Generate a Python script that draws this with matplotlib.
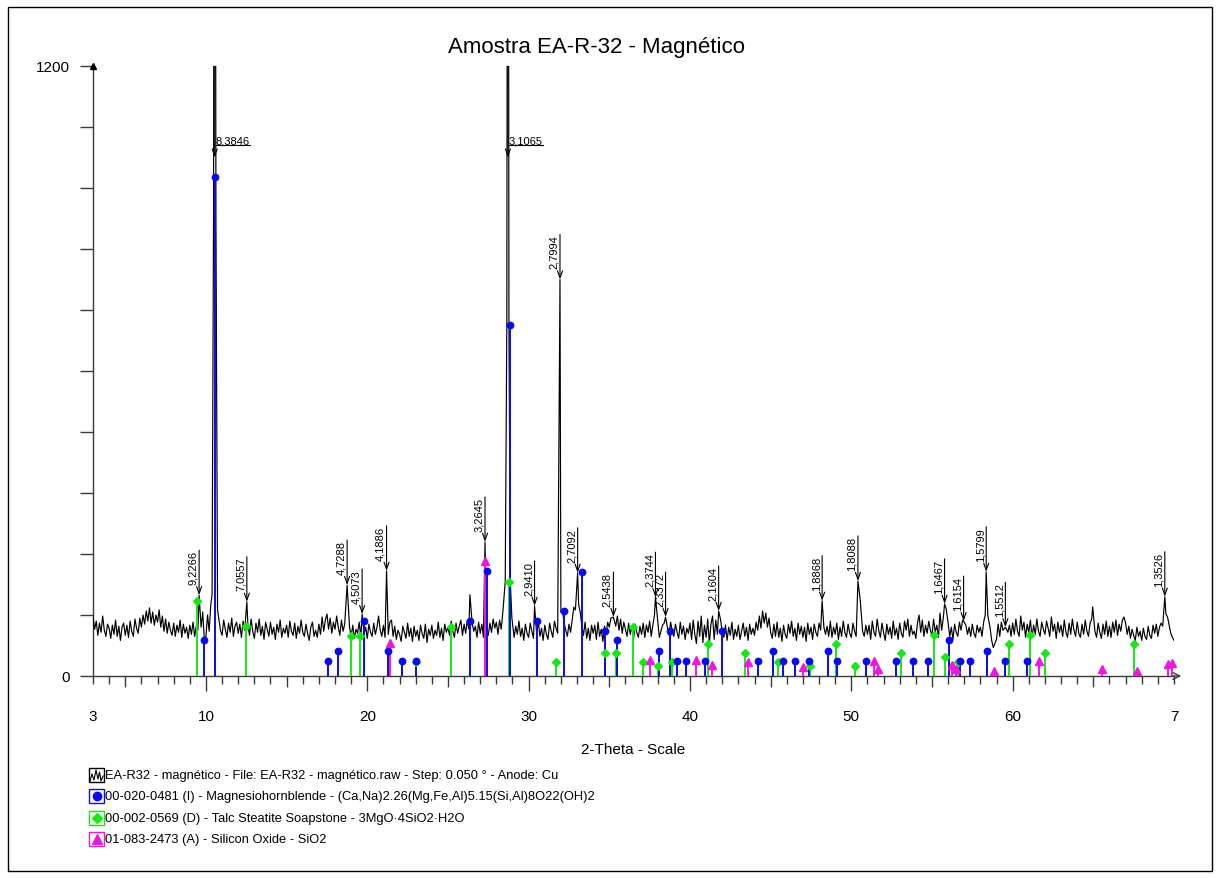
import numpy as np
import matplotlib
matplotlib.use("Agg")
import matplotlib.pyplot as plt
import matplotlib.transforms as mtransforms
from matplotlib.patches import Rectangle
from matplotlib.lines import Line2D

plt.rcParams['font.family'] = ['Liberation Sans', 'DejaVu Sans']

# ---------------------------------------------------------------- data
TITLE = "Amostra EA-R-32 - Magnético"
X_LABEL = "2-Theta - Scale"
WAVELENGTH = 1.5406          # Cu K-alpha1 (Å)
Y_MAX = 1200

# measured scan (counts), 3.0 .. 70.0 deg 2-theta
scan_start = 3.0
scan_step = 0.1
background_counts = [
    116, 92, 108, 80, 104, 86, 118, 90, 78, 102,     # 3
    94, 74, 100, 82, 110, 78, 98, 70, 96, 104,       # 4
    80, 100, 76, 108, 88, 78, 112, 94, 84, 114,      # 5
    96, 120, 102, 128, 108, 134, 104, 126, 100, 120, # 6
    106, 130, 96, 118, 88, 112, 84, 106, 90, 80,     # 7
    104, 78, 100, 86, 110, 76, 102, 84, 96, 74,      # 8
    100, 82, 106, 78, 98, 90, 76, 96, 126, 72,       # 9
    78, 120, 88, 140, 160, 200, 200, 130, 112, 90,   # 10
    80, 110, 92, 76, 104, 86, 114, 78, 98, 106,      # 11
    84, 102, 76, 108, 90, 100, 100, 80, 112, 88,     # 12
    74, 104, 86, 112, 80, 98, 72, 106, 92, 78,       # 13
    106, 82, 96, 72, 102, 86, 110, 76, 94, 84,       # 14
    100, 76, 108, 88, 80, 104, 74, 98, 84, 110,      # 15
    86, 78, 102, 84, 70, 96, 106, 78, 90, 76,        # 16
    102, 82, 116, 88, 110, 122, 92, 114, 84, 106,    # 17
    92, 118, 96, 80, 110, 88, 102, 116, 86, 96,      # 18
    78, 100, 74, 92, 84, 106, 76, 102, 82, 96,       # 19
    74, 102, 86, 78, 104, 82, 96, 118, 90, 78,       # 20
    100, 76, 92, 82, 106, 110, 78, 98, 72, 90,       # 21
    82, 68, 98, 86, 74, 104, 78, 94, 68, 98,         # 22
    78, 90, 70, 100, 84, 74, 102, 66, 92, 80,        # 23
    100, 74, 90, 80, 106, 76, 94, 70, 102, 86,       # 24
    96, 80, 108, 88, 76, 104, 84, 98, 110, 80,       # 25
    102, 84, 110, 92, 78, 104, 88, 98, 76, 106,      # 26
    84, 102, 76, 108, 92, 80, 104, 86, 112, 94,      # 27
    106, 82, 110, 92, 125, 150, 170, 180, 160, 140,  # 28
    106, 76, 98, 82, 108, 78, 94, 70, 102, 84,       # 29
    76, 104, 88, 74, 100, 82, 108, 78, 94, 70,       # 30
    100, 82, 72, 104, 88, 76, 108, 94, 84, 112,      # 31
    125, 128, 104, 90, 78, 102, 86, 110, 135, 130,   # 32
    150, 140, 125, 98, 80, 106, 74, 94, 70, 100,     # 33
    84, 100, 72, 106, 78, 92, 68, 98, 82, 106,       # 34
    96, 114, 88, 110, 98, 118, 90, 112, 84, 106,     # 35
    92, 78, 104, 82, 98, 72, 102, 86, 76, 98,        # 36
    82, 104, 76, 100, 86, 108, 78, 100, 120, 140,    # 37
    110, 76, 88, 100, 104, 108, 96, 80, 106, 88,     # 38
    78, 102, 86, 74, 106, 82, 98, 72, 94, 84,        # 39
    104, 72, 110, 82, 64, 108, 78, 118, 66, 100,     # 40
    76, 112, 64, 102, 118, 72, 110, 82, 98, 110,     # 41
    86, 76, 100, 70, 96, 80, 106, 72, 92, 78,        # 42
    100, 72, 88, 104, 78, 96, 70, 102, 82, 94,       # 43
    80, 106, 90, 118, 94, 128, 104, 124, 96, 114,    # 44
    86, 74, 102, 78, 106, 76, 94, 68, 100, 82,       # 45
    74, 102, 84, 108, 78, 94, 70, 104, 82, 98,       # 46
    76, 96, 68, 104, 82, 96, 72, 102, 86, 78,        # 47
    104, 90, 110, 96, 82, 98, 78, 108, 76, 96,       # 48
    82, 104, 72, 96, 78, 108, 86, 76, 102, 84,       # 49
    76, 104, 88, 78, 106, 120, 150, 88, 78, 100,     # 50
    82, 100, 72, 108, 86, 78, 112, 90, 76, 104,      # 51
    86, 70, 102, 82, 96, 74, 108, 80, 94, 72,        # 52
    104, 84, 76, 108, 90, 112, 78, 100, 82, 88,      # 53
    74, 104, 120, 86, 110, 78, 100, 84, 108, 90,     # 54
    80, 112, 86, 100, 76, 124, 90, 114, 130, 132,    # 55
    104, 78, 96, 72, 102, 86, 78, 106, 90, 110,      # 56
    114, 100, 82, 96, 78, 102, 84, 76, 100, 86,      # 57
    96, 78, 106, 120, 200, 119, 95, 70, 56, 64,      # 58
    72, 102, 78, 106, 90, 98, 104, 86, 100, 78,      # 59
    104, 82, 112, 88, 78, 118, 90, 106, 76, 102,     # 60
    86, 110, 76, 100, 82, 112, 88, 78, 106, 92,      # 61
    82, 108, 94, 78, 116, 88, 102, 74, 106, 86,      # 62
    100, 78, 110, 86, 76, 104, 82, 112, 90, 78,      # 63
    106, 84, 76, 102, 82, 110, 88, 78, 104, 112,     # 64
    120, 88, 76, 104, 86, 74, 102, 82, 108, 78,      # 65
    98, 76, 106, 86, 110, 80, 102, 88, 110, 116,     # 66
    104, 82, 98, 74, 92, 80, 70, 96, 78, 88,         # 67
    70, 94, 78, 72, 98, 80, 74, 100, 84, 102,        # 68
    78, 96, 104, 98, 130, 122, 116, 100, 84, 76,     # 69
    70,                                              # 70
]

# labelled reflections: d-spacing (Å) and peak counts
peak_d = [9.2266, 8.3846, 7.0557, 4.7288, 4.5073, 4.1886, 3.2645, 3.1065,
          2.9410, 2.7994, 2.7092, 2.5438, 2.3744, 2.3372, 2.1604, 1.8868,
          1.8088, 1.6467, 1.6154, 1.5799, 1.5512, 1.3526]
peak_counts = [159, 2600, 146, 179, 122, 207, 264, 2800,
               138, 780, 203, 116, 155, 116, 128, 148,
               187, 142, 108, 205, 96, 156]

# further scan points on peak flanks and unlabelled reflections
extra_2theta = [10.38, 10.47, 10.62, 10.72, 26.36, 28.55, 28.65, 28.78,
                28.86, 28.96, 50.55, 55.88, 58.46, 64.96]
extra_counts = [160, 900, 900, 130, 160, 185, 700, 700,
                190, 115, 150, 132, 119, 136]

# reference patterns (stick positions, deg 2-theta, and heights, counts)
hornblende_2theta = [9.90, 10.56, 17.56, 18.16, 19.79, 21.28, 22.16, 23.01,
                     26.36, 27.41, 28.87, 30.49, 32.18, 33.28, 34.76, 35.47,
                     38.08, 38.79, 39.22, 39.74, 40.94, 42.01, 44.24, 45.15,
                     45.75, 46.49, 47.36, 48.54, 49.14, 50.89, 52.79, 53.83,
                     54.73, 56.04, 56.72, 57.34, 58.43, 59.55, 60.87]
hornblende_counts = [70, 982, 30, 50, 109, 50, 30, 30,
                     109, 206, 691, 109, 128, 205, 89, 70,
                     50, 89, 30, 30, 30, 89, 30, 50,
                     30, 30, 30, 50, 30, 30, 30, 30,
                     30, 70, 30, 30, 50, 30, 30]

talc_2theta = [9.44, 12.46, 18.97, 19.56, 23.05, 25.16, 28.77, 31.69,
               34.72, 35.43, 36.46, 37.09, 38.04, 38.91, 41.12, 43.40,
               45.44, 47.45, 49.08, 50.25, 53.06, 55.15, 55.81, 56.59,
               59.75, 61.05, 61.98, 67.52]
talc_counts = [148, 99, 79, 79, 28, 97, 184, 28,
               45, 45, 97, 28, 20, 28, 62, 45,
               28, 20, 62, 20, 45, 80, 38, 28,
               62, 80, 45, 62]

silica_2theta = [21.42, 27.29, 37.55, 40.36, 41.35, 43.62, 47.01, 51.38,
                 51.67, 56.24, 56.51, 58.87, 61.63, 65.56, 67.71, 69.60, 69.85]
silica_counts = [65, 227, 31, 31, 22, 28, 18, 29,
                 14, 22, 14, 10, 29, 14, 10, 23, 25]

legend_texts = [
    "EA-R32 - magnético - File: EA-R32 - magnético.raw - Step: 0.050 ° - Anode: Cu",
    "00-020-0481 (I) - Magnesiohornblende - (Ca,Na)2.26(Mg,Fe,Al)5.15(Si,Al)8O22(OH)2",
    "00-002-0569 (D) - Talc Steatite Soapstone - 3MgO·4SiO2·H2O",
    "01-083-2473 (A) - Silicon Oxide - SiO2",
]

x_tick_values = [3, 10, 20, 30, 40, 50, 60, 70]
x_tick_labels = ["3", "10", "20", "30", "40", "50", "60", "7"]
y_tick_values = list(range(0, 1201, 120))

# ---------------------------------------------------------------- styles
BLUE = '#0a0aeb'
GREEN = '#19e619'
MAGENTA = '#ee18dc'
AXIS = '#3a3a3a'

W, H = 1220, 879
fig = plt.figure(figsize=(W / 100, H / 100), dpi=100)
PT = 72 / fig.dpi   # points per pixel

ax = fig.add_axes([93 / W, 1 - 677 / H, (1174 - 93) / W, (677 - 67) / H])
ax.set_xlim(3, 70)
ax.set_ylim(0, Y_MAX)

# ---------------------------------------------------------------- scan trace
peak_2theta = 2 * np.degrees(np.arcsin(WAVELENGTH / (2 * np.array(peak_d))))
bg_x = scan_start + scan_step * np.arange(len(background_counts))
bg_y = np.array(background_counts, dtype=float)
ins_x = np.concatenate([peak_2theta, extra_2theta])
ins_y = np.concatenate([peak_counts, extra_counts]).astype(float)
keep = np.array([np.min(np.abs(ins_x - x)) > 0.055 for x in bg_x])
tr_x = np.concatenate([bg_x[keep], ins_x])
tr_y = np.concatenate([bg_y[keep], ins_y])
order = np.argsort(tr_x)
ax.plot(tr_x[order], tr_y[order], color='black', lw=0.85, zorder=3)

# ---------------------------------------------------------------- reference sticks
def sticks(xs, ys, color, marker, ms):
    ax.vlines(xs, 0, ys, color=color, lw=1.4, zorder=4)
    ax.plot(xs, ys, ls='none', marker=marker, ms=ms, color=color,
            mec=color, zorder=5, clip_on=False)

sticks(talc_2theta, talc_counts, GREEN, 'D', 3.8)
sticks(hornblende_2theta, hornblende_counts, BLUE, 'o', 4.6)
sticks(silica_2theta, silica_counts, MAGENTA, '^', 5.2)

# ---------------------------------------------------------------- peak labels
ARROW = dict(arrowstyle='->,head_length=0.5,head_width=0.18', lw=0.8,
             color='black', shrinkA=0, shrinkB=0)
clipped_labels = []
for x, c, d in zip(peak_2theta, peak_counts, peak_d):
    label = f"{d:.4f}".replace('.', ',')
    if c <= Y_MAX:
        ax.annotate('', xy=(x, c), xytext=(0, 45 * PT), textcoords='offset points',
                    arrowprops=ARROW, zorder=6)
        ax.annotate(label, xy=(x, c), xytext=(-1 * PT, 45 * PT),
                    textcoords='offset points', rotation=90, ha='right', va='top',
                    fontsize=8, zorder=6)
    else:
        tip = 0.85 * Y_MAX
        ax.annotate('', xy=(x, tip), xytext=(x, Y_MAX), arrowprops=ARROW, zorder=6)
        t = ax.annotate(label, xy=(x, tip), xytext=(1 * PT, 12 * PT),
                        textcoords='offset points', ha='left', va='bottom',
                        fontsize=8, zorder=6)
        clipped_labels.append(t)

# ---------------------------------------------------------------- axes styling
for side in ('top', 'right'):
    ax.spines[side].set_visible(False)
for side in ('left', 'bottom'):
    ax.spines[side].set_color(AXIS)
    ax.spines[side].set_linewidth(1.0)

ax.set_xticks(x_tick_values)
ax.set_xticklabels(x_tick_labels, fontsize=11)
minor_locs = [v for v in range(4, 70) if v % 10 != 0]
ax.set_xticks(minor_locs, minor=True)
ax.tick_params(axis='x', which='major', direction='out', length=15 * PT,
               width=1.0, color=AXIS, pad=18 * PT)
ax.tick_params(axis='x', which='minor', direction='out', length=8 * PT,
               width=1.0, color=AXIS)
maj = ax.xaxis.get_major_ticks()
for tk in (maj[0], maj[-1]):
    tk.tick1line.set_markersize(8 * PT)
for v, tk in zip(minor_locs, ax.xaxis.get_minor_ticks()):
    if v % 5 == 0:
        tk.tick1line.set_markersize(11 * PT)

ax.set_yticks(y_tick_values)
ax.set_yticklabels(['0'] + [''] * (len(y_tick_values) - 2) + ['1200'], fontsize=11)
ax.tick_params(axis='y', direction='out', length=13 * PT, width=1.0,
               color=AXIS, pad=10 * PT)

ax.set_xlabel(X_LABEL, fontsize=11)
ax.xaxis.set_label_coords(0.5, -(743 - 677) / (677 - 67))

# axis arrows
ax.annotate('', xy=(70.45, 0), xytext=(69.9, 0), xycoords='data',
            arrowprops=dict(arrowstyle='->,head_length=0.5,head_width=0.25',
                            lw=1.0, color=AXIS, shrinkA=0, shrinkB=0),
            annotation_clip=False)
ax.plot([3.02], [Y_MAX], marker='^', ms=4, color='black', clip_on=False, zorder=7)

fig.text(597 / W, 1 - 48 / H, TITLE, ha='center', va='center', fontsize=16)

# ---------------------------------------------------------------- legend & frame
ov = fig.add_axes([0, 0, 1, 1], zorder=10)
ov.set_xlim(0, W)
ov.set_ylim(H, 0)
ov.axis('off')
ov.add_patch(Rectangle((8, 8), W - 16, H - 15, fill=False, lw=1.0, ec='black'))

row_y = [776, 797, 819, 840]
box_x, box_w, box_h = 89, 15, 14
colors = ['black', BLUE, GREEN, MAGENTA]
for i, (y, txt, col) in enumerate(zip(row_y, legend_texts, colors)):
    ov.add_patch(Rectangle((box_x, y - box_h / 2), box_w, box_h, fill=False,
                           lw=1.0, ec=col))
    cx = box_x + box_w / 2
    if i == 0:
        zx = [90, 92, 94, 96, 98, 99.5, 101, 103]
        zy = [y + 6, y - 1, y + 5, y - 5, y + 4, y - 3, y + 6, y + 1]
        ov.plot(zx, zy, color='black', lw=0.8)
    elif i == 1:
        ov.plot([cx], [y], marker='o', ms=6, color=BLUE)
    elif i == 2:
        ov.plot([cx], [y], marker='D', ms=5, color=GREEN)
    else:
        ov.plot([cx], [y], marker='^', ms=6.5, color=MAGENTA)
    ov.text(box_x + box_w + 1, y, txt, ha='left', va='center', fontsize=9.3)

# underline the horizontal peak labels
fig.canvas.draw()
for t in clipped_labels:
    bb = t.get_window_extent()
    fig.add_artist(Line2D([bb.x0, bb.x1], [bb.y0 + 1, bb.y0 + 1], lw=0.8,
                          color='black', transform=mtransforms.IdentityTransform()))

fig.savefig('out.png', dpi=100)
